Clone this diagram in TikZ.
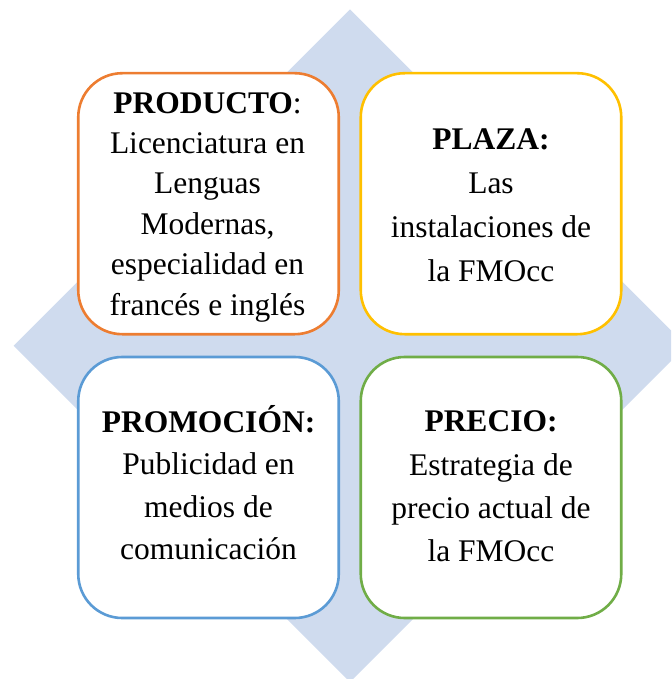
\documentclass[tikz,border=0pt]{standalone}
\usepackage{fontspec}
\setmainfont{Liberation Serif}
\definecolor{diamondfill}{RGB}{207,219,238}
\definecolor{cOrange}{HTML}{ED7D31}
\definecolor{cYellow}{HTML}{FFC000}
\definecolor{cBlue}{HTML}{5B9BD5}
\definecolor{cGreen}{HTML}{70AD47}
\begin{document}
\begin{tikzpicture}[x=1pt,y=-1pt,
  quadbox/.style={draw, line width=2.6pt, fill=white, rounded corners=44pt,
    minimum width=260.5pt, minimum height=261pt, inner sep=0pt},
  boxtext/.style={align=center, inner sep=0pt}]
\useasboundingbox (0,0) rectangle (671,679);
\begin{scope}
  \clip (0,0) rectangle (671,679);
  \fill[diamondfill] (350,9.3) -- (686.4,345.7) -- (350,682.1) -- (13.6,345.7) -- cycle;
\end{scope}
\node[quadbox, draw=cOrange] (producto) at (208.5,203.7) {};
\node[quadbox, draw=cYellow] (plaza) at (491,203.7) {};
\node[quadbox, draw=cBlue] (promocion) at (208.5,487.5) {};
\node[quadbox, draw=cGreen] (precio) at (491,487.5) {};
\node[boxtext, font=\fontsize{31.5}{40.4}\selectfont] (tproducto) at (207.5,207.1)
  {\textbf{PRODUCTO}:\\Licenciatura en\\Lenguas\\Modernas,\\especialidad en\\francés e inglés};
\node[boxtext, font=\fontsize{31.5}{44}\selectfont] (tplaza) at (491,205.5)
  {\textbf{PLAZA:}\\Las\\instalaciones de\\la FMOcc};
\node[boxtext, font=\fontsize{31.5}{42.3}\selectfont] (tpromocion) at (208.5,482.5)
  {\textbf{PROMOCIÓN:}\\Publicidad en\\medios de\\comunicación};
\node[boxtext, font=\fontsize{31.5}{43.3}\selectfont] (tprecio) at (491,486.5)
  {\textbf{PRECIO:}\\Estrategia de\\precio actual de\\la FMOcc};
\end{tikzpicture}
\end{document}
